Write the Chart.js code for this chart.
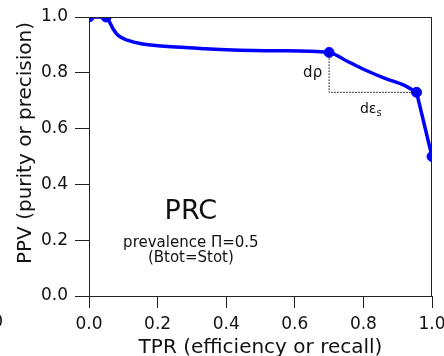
<!DOCTYPE html>
<html>
<head>
<meta charset="utf-8">
<script src="https://cdn.jsdelivr.net/npm/chart.js@4"></script>
<style>
  html, body { margin: 0; padding: 0; background: #fff; }
  #wrap { width: 444px; height: 356px; }
</style>
</head>
<body>
<div id="wrap"><canvas id="prcChart"></canvas></div>
<script>
// PRC curve (smooth part)
const tprCurve = [0, 0.05, 0.06, 0.07, 0.085, 0.114, 0.152, 0.211, 0.28, 0.34, 0.4, 0.55, 0.7, 0.746, 0.805, 0.863, 0.921, 0.955];
const ppvCurve = [1.0, 1.0, 0.982, 0.958, 0.934, 0.916, 0.904, 0.896, 0.891, 0.886, 0.883, 0.879, 0.873, 0.846, 0.810, 0.780, 0.754, 0.730];

// straight drop at the end
const tprTail = [0.955, 1.0];
const ppvTail = [0.730, 0.5];

// points that carry a marker
const tprMarks = [0, 0.05, 0.7, 0.955, 1.0];
const ppvMarks = [1.0, 1.0, 0.873, 0.730, 0.5];

// dotted d-rho / d-eps triangle
const tprDotted = [0.7, 0.7, 0.955];
const ppvDotted = [0.873, 0.730, 0.730];

const tickValues = [0, 0.2, 0.4, 0.6, 0.8, 1.0];

const FONT = 'DejaVu Sans';
const INK = '#111';
const BLUE = '#0000ff';

const toXY = (xs, ys) => xs.map((x, i) => ({ x: x, y: ys[i] }));

// frame around the plot, axis titles and the free text
const framePlugin = {
    id: 'frame',
    afterDatasetsDraw(chart) {
        const { ctx, chartArea: a, scales } = chart;
        const px = v => scales.x.getPixelForValue(v);
        const py = v => scales.y.getPixelForValue(v);
        ctx.save();
        ctx.strokeStyle = '#222';
        ctx.lineWidth = 1;
        ctx.strokeRect(a.left + 0.5, a.top + 0.5, a.right - a.left - 1, a.bottom - a.top);

        ctx.fillStyle = INK;
        ctx.textAlign = 'center';
        ctx.textBaseline = 'alphabetic';
        ctx.font = '27px "' + FONT + '"';
        ctx.fillText('PRC', px(0.297), py(0.275));
        ctx.textBaseline = 'middle';
        ctx.font = '15px "' + FONT + '"';
        ctx.fillText('prevalence \u03A0=0.5', px(0.297), py(0.19));
        ctx.fillText('(Btot=Stot)', px(0.297), py(0.136));

        ctx.textBaseline = 'alphabetic';
        ctx.font = '15px "' + FONT + '"';
        ctx.fillText('d\u03C1', px(0.652), py(0.785));
        ctx.textAlign = 'left';
        ctx.font = '14px "' + FONT + '"';
        const epsX = px(0.79), epsY = py(0.656);
        ctx.fillText('d\u03B5', epsX, epsY);
        const w = ctx.measureText('d\u03B5').width;
        ctx.font = '10px "' + FONT + '"';
        ctx.fillText('s', epsX + w, epsY + 3);

        // axis titles
        ctx.font = '20px "' + FONT + '"';
        ctx.textAlign = 'center';
        ctx.fillText('TPR (efficiency or recall)', (a.left + a.right) / 2, 353);
        ctx.save();
        ctx.translate(31, 143);
        ctx.rotate(-Math.PI / 2);
        ctx.fillText('PPV (purity or precision)', 0, 0);
        ctx.restore();

        // clipped tick label from the neighbouring panel
        ctx.font = '17px "' + FONT + '"';
        ctx.textAlign = 'right';
        ctx.textBaseline = 'middle';
        ctx.fillText('1.0', 3, 323);
        ctx.restore();
    }
};

new Chart(document.getElementById('prcChart'), {
    type: 'scatter',
    data: {
        datasets: [
            {
                type: 'line',
                data: toXY(tprDotted, ppvDotted),
                borderColor: '#000',
                borderWidth: 1,
                borderDash: [1.5, 1.5],
                pointRadius: 0,
                fill: false,
                clip: 0,
            },
            {
                type: 'line',
                data: toXY(tprCurve, ppvCurve),
                borderColor: BLUE,
                borderWidth: 3.5,
                borderJoinStyle: 'round',
                pointRadius: 0,
                cubicInterpolationMode: 'monotone',
                fill: false,
                clip: 0,
            },
            {
                type: 'line',
                data: toXY(tprTail, ppvTail),
                borderColor: BLUE,
                borderWidth: 3.5,
                pointRadius: 0,
                tension: 0,
                fill: false,
                clip: 0,
            },
            {
                data: toXY(tprMarks, ppvMarks),
                backgroundColor: BLUE,
                borderColor: BLUE,
                pointRadius: 5,
                clip: 0,
            }
        ]
    },
    options: {
        responsive: true,
        maintainAspectRatio: false,
        animation: false,
        layout: { padding: { top: 17, right: 12, left: 0, bottom: 0 } },
        plugins: { legend: { display: false }, tooltip: { enabled: false } },
        scales: {
            x: {
                type: 'linear',
                min: 0, max: 1,
                afterBuildTicks: s => { s.ticks = tickValues.map(v => ({ value: v })); },
                afterFit: s => { s.height = 60; s.paddingLeft = 0; s.paddingRight = 0; },
                grid: { display: true, drawOnChartArea: false, drawTicks: true, tickLength: 12, color: '#222' },
                border: { display: false },
                ticks: {
                    color: INK, padding: 6,
                    font: { family: FONT, size: 17 },
                    maxRotation: 0, autoSkip: false,
                    callback: v => v.toFixed(1)
                },
                title: { display: false }
            },
            y: {
                type: 'linear',
                min: 0, max: 1,
                afterBuildTicks: s => { s.ticks = tickValues.map(v => ({ value: v })); },
                afterFit: s => { s.width = 89; s.paddingTop = 0; s.paddingBottom = 0; },
                grid: { display: true, drawOnChartArea: false, drawTicks: true, tickLength: 14, color: '#222' },
                border: { display: false },
                ticks: {
                    color: INK, padding: 7,
                    font: { family: FONT, size: 17 },
                    autoSkip: false,
                    callback: v => v.toFixed(1)
                },
                title: { display: false }
            }
        }
    },
    plugins: [framePlugin]
});
</script>
</body>
</html>
